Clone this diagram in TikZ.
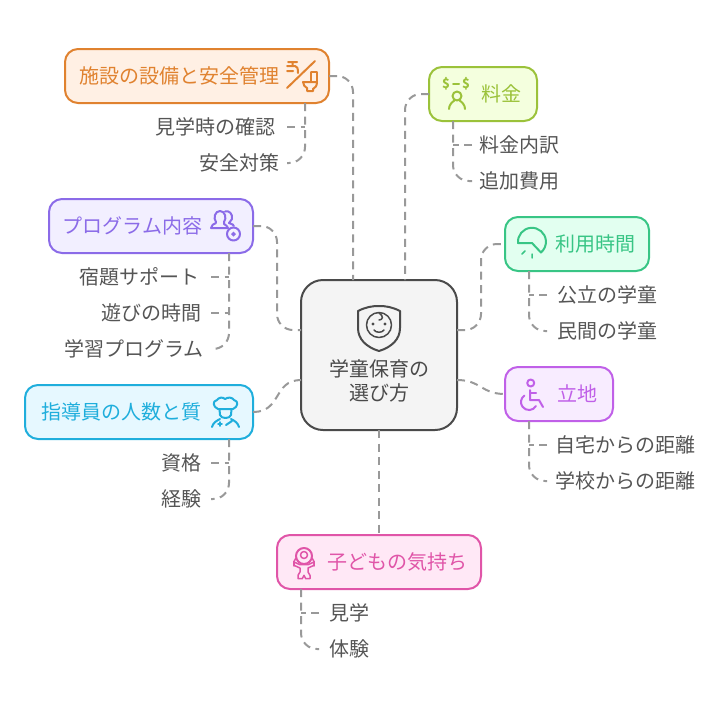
\documentclass[tikz,border=0pt]{standalone}
\usepackage{fontspec}
\setmainfont{Noto Sans CJK JP}
\usepackage{tikz}
\definecolor{linegray}{RGB}{153,153,153}
\definecolor{subgray}{RGB}{85,85,85}
\definecolor{ctrgray}{RGB}{74,74,74}
\definecolor{ctrfill}{RGB}{244,244,244}
\definecolor{facline}{RGB}{224,130,47}
\definecolor{facfill}{RGB}{255,240,228}
\definecolor{feeline}{RGB}{155,194,58}
\definecolor{feefill}{RGB}{244,255,222}
\definecolor{timeline}{RGB}{56,197,133}
\definecolor{timefill}{RGB}{226,255,240}
\definecolor{progline}{RGB}{139,107,232}
\definecolor{progfill}{RGB}{242,239,255}
\definecolor{staffline}{RGB}{31,174,220}
\definecolor{stafffill}{RGB}{230,248,255}
\definecolor{locline}{RGB}{192,96,232}
\definecolor{locfill}{RGB}{248,236,255}
\definecolor{kidline}{RGB}{224,85,168}
\definecolor{kidfill}{RGB}{255,232,246}
\tikzset{
  link/.style={linegray,line width=2pt,dash pattern=on 8pt off 5.500pt},
  bendlink/.style={link,rounded corners=16pt},
  mainbox/.style={draw,line width=2pt,rounded corners=13pt,inner sep=0pt,outer sep=0pt},
  boxtext/.style={font=\fontsize{20}{24}\selectfont,inner sep=0pt,text height=17pt,text depth=3pt},
  subtext/.style={boxtext,subgray,inner xsep=10pt},
  icon/.style={line width=2pt,line cap=round,line join=round},
  thinicon/.style={line width=1.5pt,line cap=round,line join=round}
}
\begin{document}
\begin{tikzpicture}[x=1pt,y=-1pt]
  \useasboundingbox (0,0) rectangle (722,710);

  % centre box and its ports
  \node[mainbox,ctrgray,fill=ctrfill,rounded corners=22pt,minimum width=156pt,minimum height=150pt] (ctr) at (379,355) {};
  \node[boxtext,ctrgray,align=center,text height=,text depth=] (ctrlabel) at (379,381) {学童保育の\\選び方};
  \coordinate (ctrtl) at (353,280);
  \coordinate (ctrtr) at (405,280);
  \coordinate (ctrlu) at (301,330);
  \coordinate (ctrld) at (301,380);
  \coordinate (ctrru) at (457,330);
  \coordinate (ctrrd) at (457,380);

  % boxes
  \node[mainbox,facline,fill=facfill,minimum width=264pt,minimum height=54pt] (fac) at (197,76) {};
  \node[boxtext,facline] (faclabel) at (179,76) {施設の設備と安全管理};
  \node[mainbox,feeline,fill=feefill,minimum width=108pt,minimum height=54pt] (fee) at (483,94) {};
  \node[boxtext,feeline] (feelabel) at (501,94) {料金};
  \node[mainbox,progline,fill=progfill,minimum width=204pt,minimum height=54pt] (prog) at (151,226) {};
  \node[boxtext,progline] (proglabel) at (132.500,226) {プログラム内容};
  \node[mainbox,timeline,fill=timefill,minimum width=144pt,minimum height=54pt] (time) at (577,244) {};
  \node[boxtext,timeline] (timelabel) at (595,244) {利用時間};
  \node[mainbox,staffline,fill=stafffill,minimum width=228pt,minimum height=54pt] (staff) at (139,412) {};
  \node[boxtext,staffline] (stafflabel) at (121,412) {指導員の人数と質};
  \node[mainbox,locline,fill=locfill,minimum width=108pt,minimum height=54pt] (loc) at (559,394) {};
  \node[boxtext,locline] (loclabel) at (577,394) {立地};
  \node[mainbox,kidline,fill=kidfill,minimum width=204pt,minimum height=54pt] (kid) at (379,562) {};
  \node[boxtext,kidline] (kidlabel) at (397,562) {子どもの気持ち};

  % sub items
  \node[subtext,anchor=east,inner xsep=11pt] (facvisit) at (287,127) {見学時の確認};
  \node[subtext,anchor=east,inner xsep=7pt] (facsafe) at (287,163) {安全対策};
  \node[subtext,anchor=west,inner xsep=7pt] (feelist) at (472,145) {料金内訳};
  \node[subtext,anchor=west,inner xsep=7pt] (feeextra) at (472,181) {追加費用};
  \node[subtext,anchor=west] (timepub) at (547,295) {公立の学童};
  \node[subtext,anchor=west] (timepriv) at (547,331) {民間の学童};
  \node[subtext,anchor=east,inner xsep=11pt] (proghw) at (211,277) {宿題サポート};
  \node[subtext,anchor=east,inner xsep=9.500pt] (progplay) at (211,313) {遊びの時間};
  \node[subtext,anchor=east,inner xsep=7pt] (progstudy) at (211,349) {学習プログラム};
  \node[subtext,anchor=east,inner xsep=9pt] (staffcert) at (211,463) {資格};
  \node[subtext,anchor=east,inner xsep=9pt] (staffexp) at (211,499) {経験};
  \node[subtext,anchor=west,inner xsep=8pt] (lochome) at (547,445) {自宅からの距離};
  \node[subtext,anchor=west,inner xsep=8pt] (locschool) at (547,481) {学校からの距離};
  \node[subtext,anchor=west] (kidvisit) at (319,613) {見学};
  \node[subtext,anchor=west] (kidtry) at (319,649) {体験};

  % links to the centre
  \draw[bendlink] (fac.east) -| (ctrtl);
  \draw[bendlink] (fee.west) -| (ctrtr);
  \draw[bendlink] (prog.east) -- (277,226) -- (277,330) -- (ctrlu);
  \draw[bendlink] (ctrru) -- (481,330) -- (481,244) -- (time.west);
  \draw[link] (staff.east) .. controls (282,412) and (273,380) .. (ctrld);
  \draw[link] (ctrrd) .. controls (481,380) and (481,394) .. (loc.west);
  \draw[link] (ctr.south) -- (kid.north);

  % trunks under the boxes and their branches
  \coordinate (facdrop) at (305,103);
  \coordinate (feedrop) at (453,121);
  \coordinate (timedrop) at (529,271);
  \coordinate (progdrop) at (229,253);
  \coordinate (staffdrop) at (229,439);
  \coordinate (locdrop) at (529,421);
  \coordinate (kiddrop) at (301,589);
  \draw[link] (facvisit.east) -- (facvisit.east -| facdrop);
  \draw[bendlink] (facdrop) |- (facsafe.east);
  \draw[link] (feelist.west) -- (feelist.west -| feedrop);
  \draw[bendlink] (feedrop) |- (feeextra.west);
  \draw[link] (timepub.west) -- (timepub.west -| timedrop);
  \draw[bendlink] (timedrop) |- (timepriv.west);
  \draw[link] (proghw.east) -- (proghw.east -| progdrop);
  \draw[link] (progplay.east) -- (progplay.east -| progdrop);
  \draw[bendlink] (progdrop) |- (progstudy.east);
  \draw[link] (staffcert.east) -- (staffcert.east -| staffdrop);
  \draw[bendlink] (staffdrop) |- (staffexp.east);
  \draw[link] (lochome.west) -- (lochome.west -| locdrop);
  \draw[bendlink] (locdrop) |- (locschool.west);
  \draw[link] (kidvisit.west) -- (kidvisit.west -| kiddrop);
  \draw[bendlink] (kiddrop) |- (kidtry.west);

  % shield with a face
  \draw[icon,ctrgray] (358,311) .. controls (366,307) and (372,306) .. (379,306) .. controls (386,306) and (392,307) .. (400,311) -- (400,328) .. controls (400,339) and (392,347) .. (379,351) .. controls (366,347) and (358,339) .. (358,328) -- cycle;
  \draw[thinicon,ctrgray] (379,325) circle (12.500);
  \draw[thinicon,ctrgray] (379,313) .. controls (384,316) and (383,320) .. (379,320);
  \fill[ctrgray] (373,324) circle (1.6) (385,324) circle (1.6);
  \draw[thinicon,ctrgray] (374,330) .. controls (376,333) and (382,333) .. (384,330);

  % tap, bar and toilet
  \draw[icon,facline] (287,88) -- (315,61);
  \draw[icon,facline] (288,62) -- (297,62) (292.500,62) -- (292.500,66) (287,66) -- (295,66) .. controls (297,66) and (298,68) .. (298,73) (287,71) -- (293,71);
  \draw[icon,facline] (311,72) -- (317,72) -- (317,83) (311,72) -- (311,82);
  \draw[icon,facline] (303,82) -- (317,82) .. controls (317,86) and (315,88) .. (313,89) -- (313,91) -- (307,91) -- (307,88) .. controls (305,87) and (303,85) .. (303,82) -- cycle;

  % two dollars over a person
  \node[inner sep=0pt,feeline,font=\fontsize{13}{13}\selectfont\bfseries] (feecoinl) at (446,84) {\$};
  \node[inner sep=0pt,feeline,font=\fontsize{13}{13}\selectfont\bfseries] (feecoinr) at (466,84) {\$};
  \draw[icon,feeline] (453,84) -- (459,84);
  \draw[icon,feeline] (457,96) circle (4.500);
  \draw[icon,feeline] (449,109) .. controls (449,105) and (452,102) .. (454.500,100.500) (465,109) .. controls (465,105) and (462,102) .. (459.500,100.500);

  % dome with drops
  \draw[icon,timeline] (518,243) arc[start angle=175,end angle=410,radius=14] -- (532,243) -- cycle;
  \draw[thinicon,timeline] (522,254) -- (525,251) (532,254) -- (532,258);

  % two people and an eye
  \draw[icon,progline] (216,222) .. controls (213,218) and (215,211) .. (220,211) .. controls (225,211) and (227,218) .. (224,222) -- (224,224) .. controls (226,225) and (227,226) .. (228,228) -- (211,228) .. controls (211,225) and (214,224) .. (216,223);
  \draw[icon,progline] (225,211.500) .. controls (229,210) and (233,214) .. (232,219) -- (229,223) .. controls (232,224) and (234,225) .. (234,226);
  \draw[icon,draw=progline,fill=progfill] (233.500,234) circle (6.500);
  \fill[progline] (231,234) -- (233.500,231.500) -- (236,234) -- (233.500,236.500) -- cycle;

  % person with a cap
  \draw[icon,staffline] (218,409) .. controls (213,407) and (212,401) .. (217,400) .. controls (219,397) and (223,397) .. (225,399) .. controls (228,397) and (232,397) .. (234,400) .. controls (239,401) and (238,407) .. (233,409) -- cycle;
  \draw[icon,staffline] (219.500,409) -- (220,415) .. controls (221,419) and (230,419) .. (231,415) -- (231.500,409);
  \draw[icon,staffline] (212,427) .. controls (213,423) and (216,421) .. (220,419) (239,427) .. controls (238,423) and (235,421) .. (231,419) (226,425) -- (232,421);
  \draw[thinicon,staffline] (218,424) -- (222,424) (220,422) -- (220,426);

  % wheelchair user
  \draw[icon,locline] (530.7,383) circle (3.500);
  \draw[icon,locline] (530,390) -- (530,400) -- (539,400) -- (543,407);
  \draw[icon,locline] (530,392.500) -- (536,392.500);
  \draw[icon,locline] (524.4,395.5) arc[start angle=235,end angle=30,radius=8];

  % child with a rope
  \draw[icon,kidline] (304,556) circle (8);
  \draw[thinicon,kidline] (304,555) circle (3.500);
  \draw[thinicon,kidline] (296,558) .. controls (294,560) and (293,563) .. (294,566) (312,558) .. controls (314,560) and (315,563) .. (314,566);
  \draw[thinicon,kidline] (294,562) -- (300,564.700) -- (308,564.700) -- (314,562) -- (314,565.300) -- (308,568) -- (308,572) -- (310,575.300) -- (310,578.700) -- (305.700,578.700) -- (304,575.300) -- (302.300,578.700) -- (298,578.700) -- (298,575.300) -- (300,572) -- (300,568) -- (294,565.300) -- cycle;
\end{tikzpicture}
\end{document}
